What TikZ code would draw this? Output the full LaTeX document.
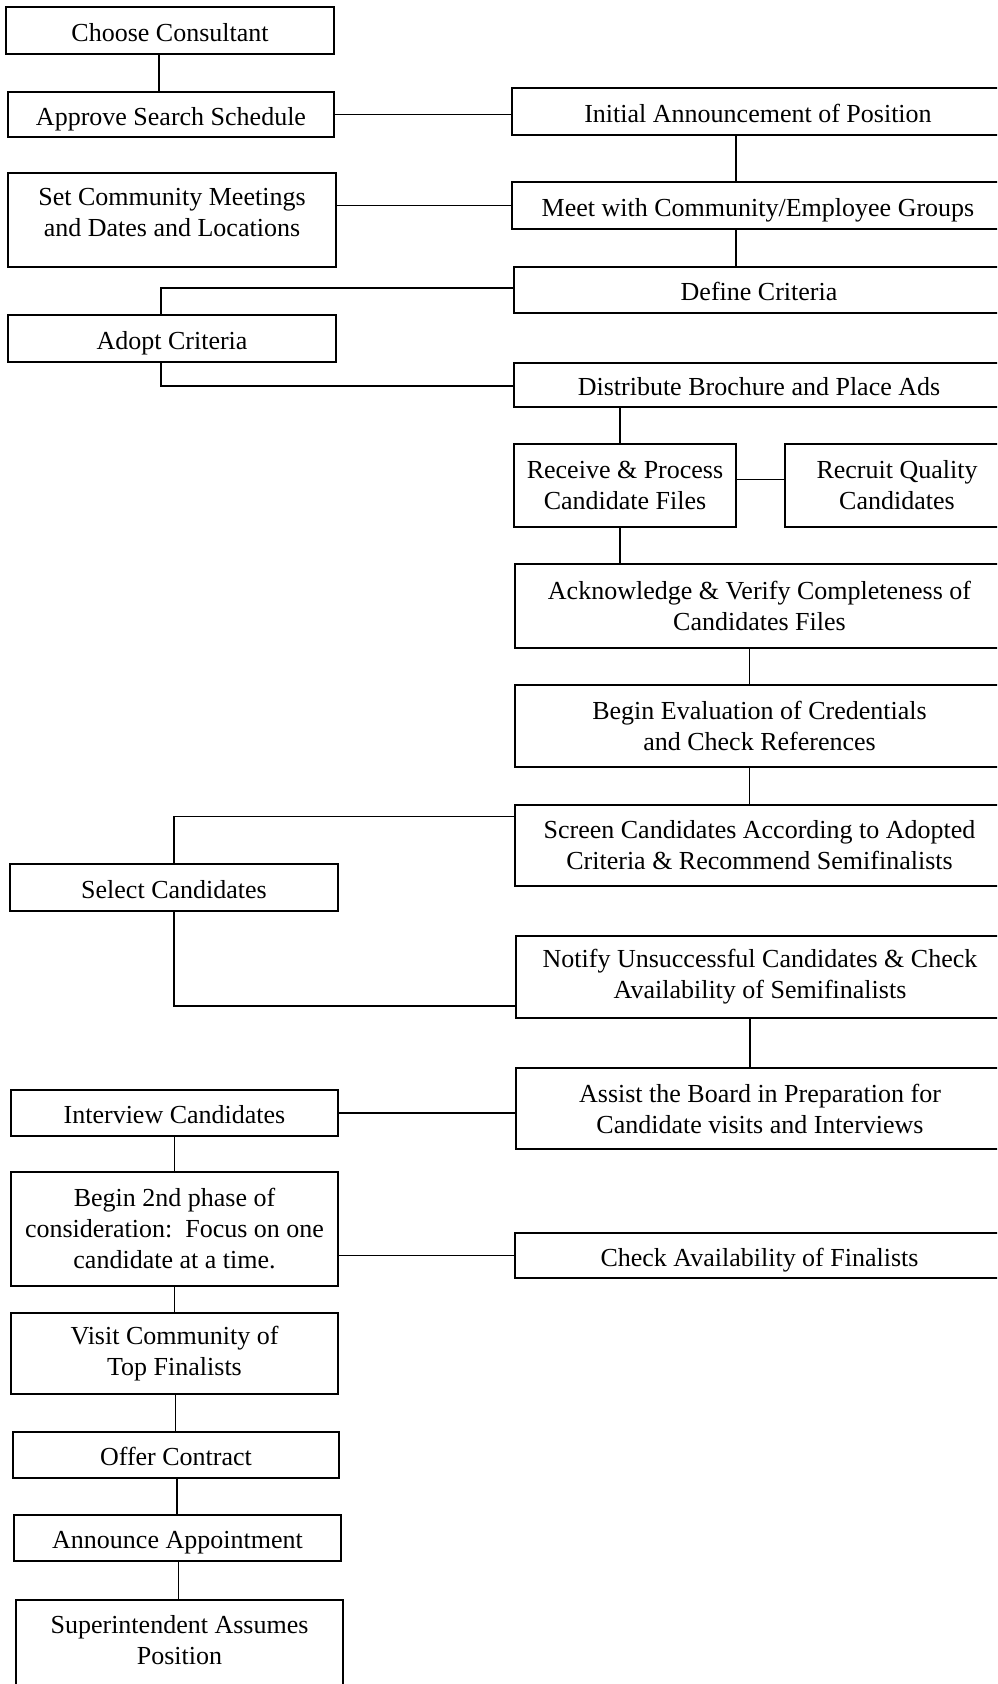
\documentclass[tikz,border=0pt]{standalone}
\usepackage{fontspec}
\setmainfont{Liberation Serif}
\begin{document}
\begin{tikzpicture}[x=1pt,y=-1pt,
  box/.style={draw, line width=1.8pt, inner sep=0pt, align=center, font=\fontsize{26}{31}\selectfont},
  one/.style={text height=21pt, text depth=0pt},
  txt/.style={inner sep=0pt, align=center, font=\fontsize{26}{31}\selectfont},
  conn/.style={line width=1.5pt}]
\useasboundingbox (0,0) rectangle (997,1684);
\clip (0,0) rectangle (997,1684);
% left column
\node[box, one, minimum width=328, minimum height=47] (choose) at (170,30.5) {Choose Consultant};
\node[box, one, minimum width=326, minimum height=45] (approve) at (171,114.5) {Approve Search Schedule};
\node[box, minimum width=328, minimum height=94] (setcomm) at (172,220) {};
\node[txt] (setcommtext) at (172,213) {Set Community Meetings\\and Dates and Locations};
\node[box, one, minimum width=328, minimum height=47] (adopt) at (172,338.5) {Adopt Criteria};
\node[box, one, minimum width=328, minimum height=47] (select) at (174,887.5) {Select Candidates};
\node[box, one, minimum width=327, minimum height=46] (interview) at (174.5,1113) {Interview Candidates};
\node[box, minimum width=327, minimum height=114] (phase2) at (174.5,1229) {Begin 2nd phase of\\consideration:\ \ Focus on one\\candidate at a time.};
\node[box, minimum width=327, minimum height=81] (visit) at (174.5,1353.5) {Visit Community of\\Top Finalists};
\node[box, one, minimum width=326, minimum height=46] (offer) at (176,1455) {Offer Contract};
\node[box, one, minimum width=327, minimum height=46] (announce) at (177.5,1538) {Announce Appointment};
\node[box, minimum width=327, minimum height=120, anchor=north] (superint) at (179.5,1599) {};
\node[txt] (superinttext) at (179.5,1640) {Superintendent Assumes\\Position};
% right column
\node[box, one, minimum width=492, minimum height=47] (initial) at (758,111.5) {Initial Announcement of Position};
\node[box, one, minimum width=492, minimum height=47] (meet) at (758,205.5) {Meet with Community/Employee Groups};
\node[box, one, minimum width=490, minimum height=46] (define) at (759,290) {Define Criteria};
\node[box, one, minimum width=490, minimum height=44] (distribute) at (759,385) {Distribute Brochure and Place Ads};
\node[box, minimum width=222, minimum height=83] (receive) at (625,485.5) {Receive \& Process\\Candidate Files};
\node[box, minimum width=224, minimum height=83] (recruit) at (897,485.5) {Recruit Quality\\Candidates};
\node[box, minimum width=489, minimum height=84] (ack) at (759.5,606) {Acknowledge \& Verify Completeness of\\Candidates Files};
\node[box, minimum width=489, minimum height=82] (begineval) at (759.5,726) {Begin Evaluation of Credentials\\and Check References};
\node[box, minimum width=489, minimum height=81] (screen) at (759.5,845.5) {Screen Candidates According to Adopted\\Criteria \& Recommend Semifinalists};
\node[box, minimum width=488, minimum height=82] (notify) at (760,977) {Notify Unsuccessful Candidates \& Check\\Availability of Semifinalists};
\node[box, minimum width=488, minimum height=81] (assist) at (760,1108.5) {Assist the Board in Preparation for\\Candidate visits and Interviews};
\node[box, one, minimum width=489, minimum height=45] (checkfin) at (759.5,1255.5) {Check Availability of Finalists};
% connectors
\draw[conn] ([xshift=-11]choose.south) -- ([xshift=-11]choose.south |- approve.north);
\draw[conn] (approve.east) -- (approve.east -| initial.west);
\draw[conn] ([xshift=-22]initial.south) -- ([xshift=-22]initial.south |- meet.north);
\draw[conn] (setcomm.east |- meet.west) -- (meet.west);
\draw[conn] ([xshift=-22]meet.south) -- ([xshift=-22]meet.south |- define.north);
\draw[conn] ([yshift=2]define.west) -| ([xshift=-11]adopt.north);
\draw[conn] ([xshift=-11]adopt.south) |- ([yshift=-1]distribute.west);
\draw[conn] ([xshift=-5]receive.north |- distribute.south) -- ([xshift=-5]receive.north);
\draw[conn] ([yshift=6]receive.east) -- ([yshift=6]receive.east -| recruit.west);
\draw[conn] ([xshift=-5]receive.south) -- ([xshift=-5]receive.south |- ack.north);
\draw[conn] ([xshift=-10]ack.south) -- ([xshift=-10]ack.south |- begineval.north);
\draw[conn] ([xshift=-10]begineval.south) -- ([xshift=-10]begineval.south |- screen.north);
\draw[conn] ([yshift=29]screen.west) -| (select.north);
\draw[conn] (select.south) |- ([yshift=-29]notify.west);
\draw[conn] ([xshift=-10]notify.south) -- ([xshift=-10]notify.south |- assist.north);
\draw[conn] (interview.east) -- (interview.east -| assist.west);
\draw[conn] (interview.south) -- (interview.south |- phase2.north);
\draw[conn] (phase2.east |- checkfin.west) -- (checkfin.west);
\draw[conn] (phase2.south) -- (phase2.south |- visit.north);
\draw[conn] ([xshift=1]visit.south) -- ([xshift=1]visit.south |- offer.north);
\draw[conn] ([xshift=1]offer.south) -- ([xshift=1]offer.south |- announce.north);
\draw[conn] ([xshift=1]announce.south) -- ([xshift=1]announce.south |- superint.north);
\end{tikzpicture}
\end{document}
